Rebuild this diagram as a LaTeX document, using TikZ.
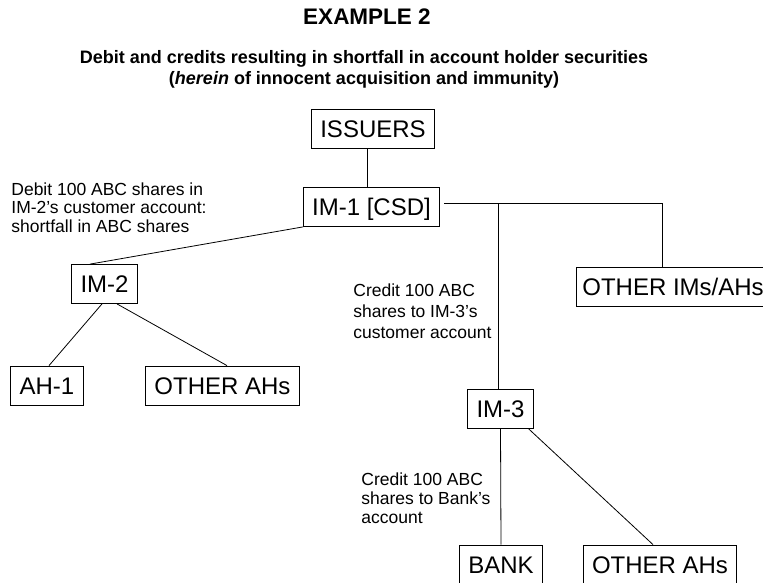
\documentclass[tikz,border=0pt]{standalone}
\usepackage{fontspec}
\setmainfont{Liberation Sans}

\tikzset{box/.style={draw, line width=0.8pt, font=\fontsize{24}{28}\selectfont, inner xsep=8.8pt, inner ysep=0pt, minimum height=39pt, text height=17.5pt, text depth=0pt}}
\tikzset{note/.style={anchor=north west, align=left, inner sep=0pt}}

\begin{document}
\begin{tikzpicture}[x=1pt,y=-1pt,line width=0.8pt]
\path[fill=white] (0,0) rectangle (763,582);
\useasboundingbox (0,0) rectangle (763,582);
\node[anchor=base, font=\fontsize{22.5}{26}\selectfont\bfseries] (title) at (367,24) {EXAMPLE 2};
\node[anchor=north, align=center, inner sep=0pt, font=\fontsize{18}{21}\selectfont\bfseries] (subtitle) at (364,50) {Debit and credits resulting in shortfall in account holder securities\\(\textit{herein} of innocent acquisition and immunity)};

\node[box] (issuers) at (373,128.5) {ISSUERS};
\node[box, minimum width=135pt] (im1) at (371.5,207) {IM-1 [CSD]};
\node[box, anchor=west, inner xsep=6pt] (otherim) at (576,286.5) {OTHER IMs/AHs};
\node[box] (im2) at (104.5,284) {IM-2};
\node[box] (ah1) at (47,385.5) {AH-1};
\node[box, minimum width=149pt] (otherah1) at (222.5,385.5) {OTHER AHs};
\node[box] (im3) at (500.5,409) {IM-3};
\node[box] (bank) at (501,564.5) {BANK};
\node[box] (otherah2) at (660,564.5) {OTHER AHs};

\coordinate (fork) at (498,203);
\coordinate (bend) at (662,203);

\draw ([xshift=-6pt]issuers.south) -- ([xshift=-6pt]issuers.south |- im1.north);
\draw ([xshift=4pt,yshift=4pt]im1.east) -- (bend) -- (bend |- otherim.north);
\draw (fork) -- (fork |- im3.north);
\draw (im1.south west) -- ([xshift=-14.5pt]im2.north);
\draw ([xshift=-2.5pt]im2.south) -- ([xshift=2pt]ah1.north);
\draw ([xshift=12.5pt]im2.south) -- ([xshift=4.5pt]otherah1.north);
\draw (im3.south) -- (bank.north);
\draw ([xshift=-5pt]im3.south east) -- ([xshift=-7pt]otherah2.north);

\node[note, font=\fontsize{17.5}{18.5}\selectfont] (debit) at (11,182) {Debit 100 ABC shares in\\IM-2’s customer account:\\shortfall in ABC shares};
\node[note, font=\fontsize{17.5}{21}\selectfont] (credit1) at (353,283) {Credit 100 ABC\\shares to IM-3’s\\customer account};
\node[note, font=\fontsize{17.5}{19}\selectfont] (credit2) at (361,472) {Credit 100 ABC\\shares to Bank’s\\account};
\end{tikzpicture}
\end{document}
